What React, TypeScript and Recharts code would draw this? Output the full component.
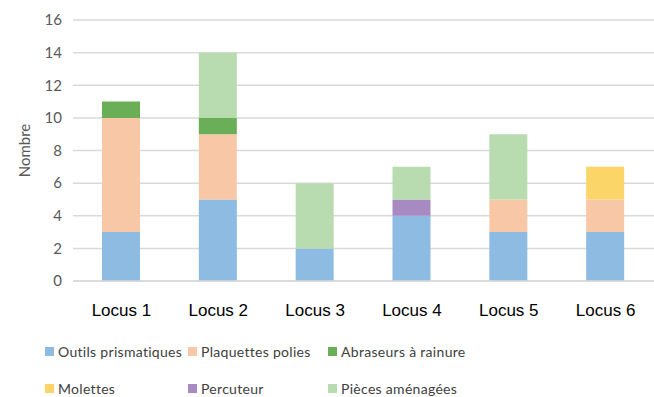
import { Bar, BarChart, CartesianGrid, Legend, XAxis, YAxis } from "recharts";

const loci = ["Locus 1", "Locus 2", "Locus 3", "Locus 4", "Locus 5", "Locus 6"];
const outils = [3, 5, 2, 4, 3, 3];
const plaquettes = [7, 4, 0, 0, 2, 2];
const abraseurs = [1, 1, 0, 0, 0, 0];
const molettes = [0, 0, 0, 0, 0, 2];
const percuteur = [0, 0, 0, 1, 0, 0];
const pieces = [0, 4, 4, 2, 4, 0];
const yTicks = [0, 2, 4, 6, 8, 10, 12, 14, 16];

const series = [
  { key: "outils", name: "Outils prismatiques", values: outils, color: "#8DBBE2" },
  { key: "plaquettes", name: "Plaquettes polies", values: plaquettes, color: "#F8C7A6" },
  { key: "abraseurs", name: "Abraseurs à rainure", values: abraseurs, color: "#6AAF57" },
  { key: "molettes", name: "Molettes", values: molettes, color: "#FCD569" },
  { key: "percuteur", name: "Percuteur", values: percuteur, color: "#A78AC1" },
  { key: "pieces", name: "Pièces aménagées", values: pieces, color: "#B8DCAF" },
];

const data = loci.map((locus, i) => {
  const row: Record<string, string | number> = { locus };
  series.forEach((s) => {
    row[s.key] = s.values[i];
  });
  return row;
});

const calibriLike = "Lato, 'Open Sans', sans-serif";

function LegendBox() {
  return (
    <div
      style={{
        display: "grid",
        gridTemplateColumns: "143px 140px 170px",
        rowGap: 19,
        fontFamily: calibriLike,
        fontSize: 14,
        letterSpacing: 0.3,
        color: "#404040",
      }}
    >
      {series.map((s) => (
        <div key={s.key} style={{ display: "flex", alignItems: "center", height: 18 }}>
          <span style={{ width: 9, height: 9, background: s.color, marginRight: 4 }} />
          <span>{s.name}</span>
        </div>
      ))}
    </div>
  );
}

export default function App() {
  return (
    <div style={{ position: "absolute", left: 0, top: 0, width: 654, height: 397, background: "#fff" }}>
      <BarChart
        width={654}
        height={397}
        data={data}
        margin={{ top: 20, right: 0, left: 0, bottom: 86 }}
        barSize={38}
      >
        <CartesianGrid vertical={false} stroke="#D9D9D9" strokeWidth={1.5} />
        <XAxis
          dataKey="locus"
          axisLine={{ stroke: "#D9D9D9", strokeWidth: 1.5 }}
          tickLine={false}
          tickMargin={17}
          height={30}
          tick={{ fill: "#000", fontSize: 17, fontFamily: "'Liberation Sans', Arial, sans-serif" }}
        />
        <YAxis
          width={73}
          domain={[0, 16]}
          ticks={yTicks}
          axisLine={false}
          tickLine={false}
          tickMargin={5}
          tick={{ fill: "#595959", fontSize: 15, fontFamily: calibriLike }}
          label={{
            value: "Nombre",
            angle: -90,
            position: "insideLeft",
            offset: 0,
            dx: 25,
            style: { fill: "#595959", fontSize: 15, fontFamily: calibriLike, textAnchor: "middle" },
          }}
        />
        <Legend
          layout="horizontal"
          verticalAlign="middle"
          content={() => <LegendBox />}
          wrapperStyle={{ top: 342, left: 45, width: 480 }}
        />
        {series.map((s) => (
          <Bar key={s.key} dataKey={s.key} name={s.name} stackId="a" fill={s.color} isAnimationActive={false} />
        ))}
      </BarChart>
    </div>
  );
}
